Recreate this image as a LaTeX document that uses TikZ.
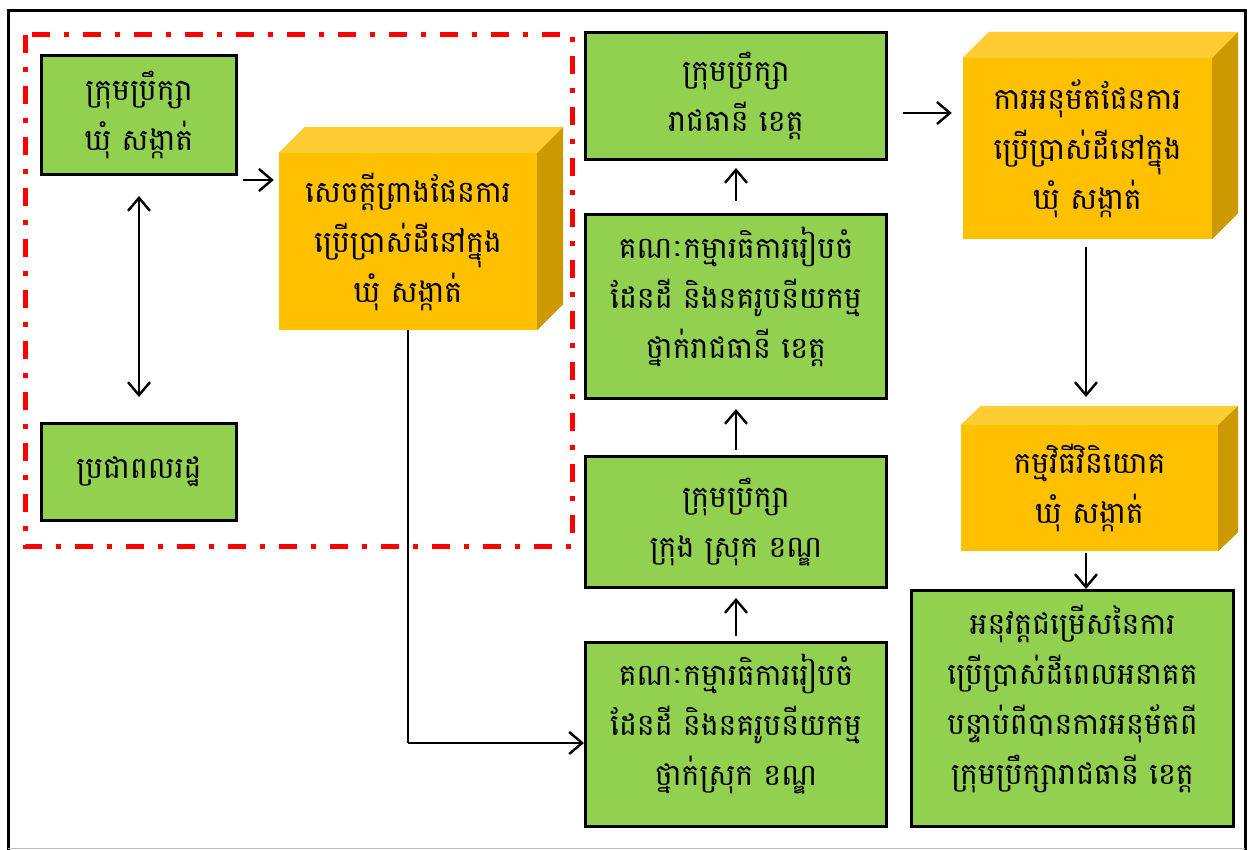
\documentclass[tikz,border=0pt]{standalone}
\usepackage{fontspec}
\newfontfamily\km[Script=Khmer]{Battambang}
\usetikzlibrary{arrows.meta,calc}
\definecolor{gboxc}{RGB}{146,208,80}
\definecolor{cfront}{RGB}{255,192,0}
\definecolor{ctop}{RGB}{255,205,51}
\definecolor{cside}{RGB}{204,154,0}
\newcommand\kmtext{\km\fontsize{30}{50}\selectfont}
\begin{document}
\begin{tikzpicture}[x=1pt,y=-1pt,
  gbox/.style={draw=black,line width=3pt,fill=gboxc,align=center,inner sep=0pt,font=\kmtext},
  txt/.style={align=center,inner sep=0pt,font=\kmtext},
  cube/.style={fill=cfront,align=center,inner sep=0pt,font=\kmtext},
  arr/.style={line width=2.4pt,-{Straight Barb[length=13pt,width=22pt,line width=2.4pt]}},
  darr/.style={line width=2.4pt,{Straight Barb[length=13pt,width=22pt,line width=2.4pt]}-{Straight Barb[length=13pt,width=22pt,line width=2.4pt]}},
  redbox/.style={draw=red,line width=5pt,dash pattern=on 18pt off 14pt on 5pt off 14pt}]
\useasboundingbox (0,0) rectangle (1252,850);
\fill[white] (0,0) rectangle (1252,850);
% outer frame
\draw[line width=3pt,line cap=rect] (8,848) -- (8,11) -- (1245,11) -- (1245,848);
\draw[black!25,line width=1pt] (8,848) -- (1245,848);
% red dash-dot group
\draw[redbox] (25,35) rectangle (572,546);

% green boxes
\node[gbox,minimum width=195pt,minimum height=119pt] (A) at (139,115) {ក្រុមប្រឹក្សា\\ឃុំ សង្កាត់};
\node[gbox,minimum width=195pt,minimum height=97pt] (B) at (139,472) {ប្រជាពលរដ្ឋ};
\node[gbox,minimum width=301pt,minimum height=127pt] (C1) at (736,96) {ក្រុមប្រឹក្សា\\រាជធានី ខេត្ត};
\node[gbox,minimum width=301pt,minimum height=184pt] (C2) at (736,306.5) {};
\node[txt] (C2t) at ([yshift=10pt]C2.center) {គណៈកម្មារធិការរៀបចំ\\ដែនដី និងនគរូបនីយកម្ម\\ថ្នាក់រាជធានី ខេត្ត};
\node[gbox,minimum width=301pt,minimum height=131pt] (C3) at (736,522) {ក្រុមប្រឹក្សា\\ក្រុង ស្រុក ខណ្ឌ};
\node[gbox,minimum width=301pt,minimum height=184pt] (C4) at (736,734.5) {};
\node[txt] (C4t) at ([yshift=10pt]C4.center) {គណៈកម្មារធិការរៀបចំ\\ដែនដី និងនគរូបនីយកម្ម\\ថ្នាក់ស្រុក ខណ្ឌ};
\node[gbox,minimum width=322pt,minimum height=236pt] (D) at (1072.5,708.5) {};
\node[txt] (Dt) at ([yshift=10pt]D.center) {អនុវត្តជម្រើសនៃការ\\ប្រើប្រាស់ដីពេលអនាគត\\បន្ទាប់ពីបានការអនុម័តពី\\ក្រុមប្រឹក្សារាជធានី ខេត្ត};

% cubes
\node[cube,minimum width=258pt,minimum height=177pt] (K1) at (408,241.5) {សេចក្តីព្រាងផែនការ\\ប្រើប្រាស់ដីនៅក្នុង\\ឃុំ សង្កាត់};
\fill[ctop] (K1.north west) -- ++(26,-26) -- ($(K1.north east)+(26,-26)$) -- (K1.north east) -- cycle;
\fill[cside] (K1.north east) -- ++(26,-26) -- ($(K1.south east)+(26,-26)$) -- (K1.south east) -- cycle;

\node[cube,minimum width=249pt,minimum height=181pt] (K2) at (1087.5,148.5) {ការអនុម័តផែនការ\\ប្រើប្រាស់ដីនៅក្នុង\\ឃុំ សង្កាត់};
\fill[ctop] (K2.north west) -- ++(26,-26) -- ($(K2.north east)+(26,-26)$) -- (K2.north east) -- cycle;
\fill[cside] (K2.north east) -- ++(26,-26) -- ($(K2.south east)+(26,-26)$) -- (K2.south east) -- cycle;

\node[cube,minimum width=257pt,minimum height=126pt] (K3) at (1089.5,488) {កម្មវិធីវិនិយោគ\\ឃុំ សង្កាត់};
\fill[ctop] (K3.north west) -- ++(20,-19) -- ($(K3.north east)+(20,-19)$) -- (K3.north east) -- cycle;
\fill[cside] (K3.north east) -- ++(20,-19) -- ($(K3.south east)+(20,-19)$) -- (K3.south east) -- cycle;

% connectors
\draw[darr] ([yshift=-20pt]A.south) -- ([yshift=25pt]B.north);
\draw[arr] ([xshift=5pt]A.east |- 0,180) -- ([xshift=-5pt]K1.west |- 0,180);
\draw[line width=2.4pt] (K1.south) -- (K1.south |- 0,743);
\draw[arr] (K1.south |- 0,743) -- (C4.west |- 0,743);
\draw[arr] ([yshift=5pt]C4.north) -- ([yshift=-9pt]C3.south);
\draw[arr] ([yshift=5pt]C3.north) -- ([yshift=-9pt]C2.south);
\draw[arr] ([yshift=12pt]C2.north) -- ([yshift=-7pt]C1.south);
\draw[arr] ([xshift=15pt]C1.east |- 0,113) -- ([xshift=-11pt]K2.west |- 0,113);
\draw[arr] ([xshift=-1.5pt,yshift=-8pt]K2.south) -- ([xshift=-3.5pt]K3.north |- 0,397);
\draw[arr] ([xshift=-3.5pt,yshift=-2pt]K3.south) -- ([xshift=-3.5pt]K3.south |- D.north);
\end{tikzpicture}
\end{document}
